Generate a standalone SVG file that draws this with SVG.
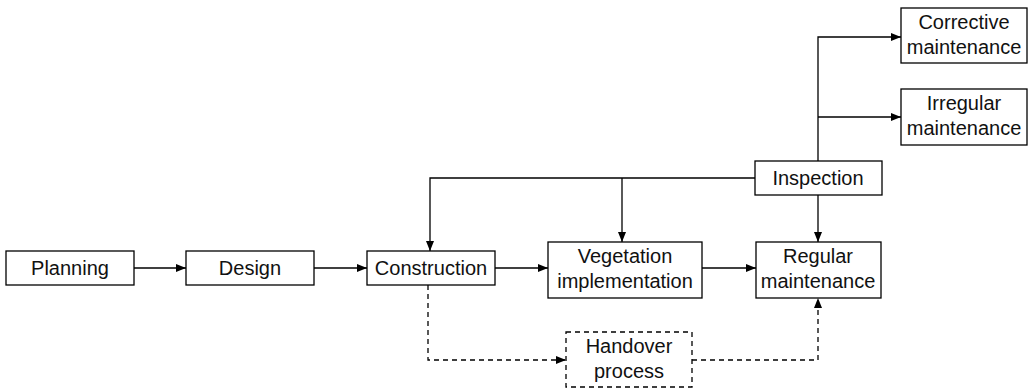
<svg xmlns="http://www.w3.org/2000/svg" width="1028" height="388" viewBox="0 0 1028 388">
<style>
.n{fill:#fff;stroke:#000;stroke-width:1.3}
.d{stroke-dasharray:5 4}
text{font-family:"Liberation Sans",Arial,sans-serif;font-size:20px;fill:#111;text-anchor:middle}
.c{fill:none;stroke:#000;stroke-width:1.3}
</style>
<defs>
<marker id="a" viewBox="0 0 10 10" refX="10" refY="5" markerWidth="10" markerHeight="10" markerUnits="userSpaceOnUse" orient="auto">
<path d="M0,1 L10,5 L0,9 Z" fill="#000"/>
</marker>
</defs>
<g id="connectors">
<path class="c" d="M134,268 H186" marker-end="url(#a)"/>
<path class="c" d="M314,268 H367" marker-end="url(#a)"/>
<path class="c" d="M495,268 H548" marker-end="url(#a)"/>
<path class="c" d="M702,268 H756" marker-end="url(#a)"/>
<path class="c" d="M755,178 H430 V251" marker-end="url(#a)"/>
<path class="c" d="M622,178 V242" marker-end="url(#a)"/>
<path class="c" d="M818,195 V242" marker-end="url(#a)"/>
<path class="c" d="M818,161 V37 H901" marker-end="url(#a)"/>
<path class="c" d="M818,117 H901" marker-end="url(#a)"/>
<path class="c d" d="M428,285 V360 H566" marker-end="url(#a)"/>
<path class="c d" d="M692,360 H818 V298" marker-end="url(#a)"/>
</g>
<g id="planning"><rect class="n" x="6" y="251" width="128" height="34"/><text x="70" y="275">Planning</text></g>
<g id="design"><rect class="n" x="186" y="251" width="128" height="34"/><text x="250" y="275">Design</text></g>
<g id="construction"><rect class="n" x="367" y="251" width="128" height="34"/><text x="431" y="275">Construction</text></g>
<g id="vegetation"><rect class="n" x="548" y="242" width="154" height="56"/><text x="625" y="263">Vegetation</text><text x="625" y="288">implementation</text></g>
<g id="regular"><rect class="n" x="756" y="242" width="125" height="56"/><text x="818" y="263">Regular</text><text x="818" y="288">maintenance</text></g>
<g id="inspection"><rect class="n" x="755" y="161" width="127" height="34"/><text x="818" y="185">Inspection</text></g>
<g id="corrective"><rect class="n" x="901" y="8" width="126" height="55"/><text x="964" y="29">Corrective</text><text x="964" y="54">maintenance</text></g>
<g id="irregular"><rect class="n" x="901" y="89" width="126" height="56"/><text x="964" y="110">Irregular</text><text x="964" y="135">maintenance</text></g>
<g id="handover"><rect class="n d" x="566" y="332" width="126" height="55"/><text x="629" y="353">Handover</text><text x="629" y="378">process</text></g>
</svg>
